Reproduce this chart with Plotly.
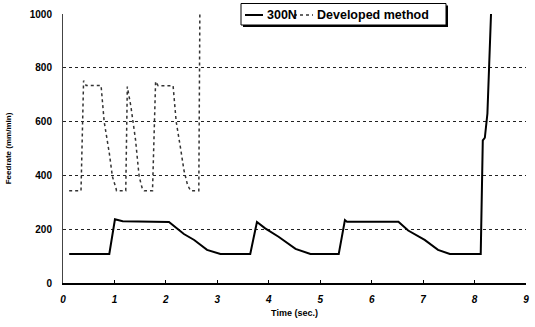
import plotly.graph_objects as go

# 300N (solid)
t_300n = [0.12, 0.90, 1.01, 1.16, 2.06, 2.35, 2.55, 2.80, 3.06, 3.64, 3.77, 3.93, 4.19, 4.52, 4.81,
          5.36, 5.48, 5.52, 6.52, 6.71, 7.03, 7.29, 7.52, 8.12, 8.16, 8.20, 8.25, 8.32]
f_300n = [108, 108, 237, 230, 227, 182, 160, 123, 108, 108, 227, 203, 172, 127, 108,
          108, 234, 228, 228, 195, 160, 123, 108, 108, 530, 540, 630, 1000]

# Developed method (dotted)
t_dev = [0.12, 0.35, 0.40, 0.45, 0.74, 0.80, 0.90, 0.96, 1.03, 1.04, 1.22, 1.25, 1.32, 1.41, 1.48,
         1.54, 1.58, 1.74, 1.80, 1.85, 2.14, 2.20, 2.29, 2.35, 2.42, 2.48, 2.64, 2.66]
f_dev = [343, 343, 752, 734, 734, 600, 483, 396, 352, 343, 343, 730, 656, 532, 396,
         352, 343, 343, 749, 733, 733, 600, 495, 420, 365, 343, 343, 1000]

series_names = ["300N", "Developed method"]
x_ticks = [0, 1, 2, 3, 4, 5, 6, 7, 8, 9]
y_ticks = [0, 200, 400, 600, 800, 1000]

W, H = 535, 327
L, R, T, B = 63, 9, 14, 44
pw, ph = W - L - R, H - T - B


def px(x):  # page pixel -> paper x
    return (x - L) / pw


def py(y):  # page pixel -> paper y
    return (H - B - y) / ph


fig = go.Figure()
fig.add_trace(go.Scatter(x=t_300n, y=f_300n, mode="lines", name=series_names[0],
                         line=dict(color="black", width=2), showlegend=False))
fig.add_trace(go.Scatter(x=t_dev, y=f_dev, mode="lines", name=series_names[1],
                         line=dict(color="#333333", width=1.5, dash="dot"), showlegend=False))

font = "Liberation Sans, Arial, sans-serif"

# manual legend (box with shadow, samples, labels)
shapes = [
    dict(type="rect", xref="paper", yref="paper", x0=px(243), x1=px(448), y0=py(27), y1=py(5.5),
         fillcolor="black", line=dict(width=0), layer="above"),
    dict(type="rect", xref="paper", yref="paper", x0=px(241), x1=px(446), y0=py(25), y1=py(3.5),
         fillcolor="white", line=dict(color="black", width=1), layer="above"),
    dict(type="line", xref="paper", yref="paper", x0=px(245), x1=px(263), y0=py(15), y1=py(15),
         line=dict(color="black", width=2), layer="above"),
    dict(type="line", xref="paper", yref="paper", x0=px(294), x1=px(313), y0=py(15), y1=py(15),
         line=dict(color="#333333", width=1.5, dash="dot"), layer="above"),
]
annotations = [
    dict(xref="paper", yref="paper", x=px(265), y=py(15), xanchor="left", yanchor="middle",
         text=f"<b>{series_names[0]}</b>", showarrow=False, font=dict(size=12.5, family=font)),
    dict(xref="paper", yref="paper", x=px(315), y=py(15), xanchor="left", yanchor="middle",
         text=f"<b>{series_names[1]}</b>", showarrow=False, font=dict(size=12.5, family=font)),
]

fig.update_layout(
    width=W, height=H,
    margin=dict(l=L, r=R, t=T, b=B, autoexpand=False),
    paper_bgcolor="white", plot_bgcolor="white",
    font=dict(family=font, color="black"),
    showlegend=False,
    shapes=shapes, annotations=annotations,
    xaxis=dict(range=[0, 9], tickvals=x_ticks, ticktext=[f"<b><i>{v}</i></b>" for v in x_ticks],
               showgrid=False, zeroline=False, showline=True, linecolor="black", linewidth=1.5,
               ticks="inside", ticklen=3, tickcolor="black", ticklabelstandoff=6,
               tickfont=dict(size=10),
               title=dict(text="<b>Time (sec.)</b>", font=dict(size=9), standoff=6)),
    yaxis=dict(range=[0, 1000], tickvals=y_ticks, ticktext=[f"<b>{v}</b>" for v in y_ticks],
               showgrid=True, gridcolor="#222222", griddash="dot", gridwidth=1,
               zeroline=False, showline=True, linecolor="#444444", linewidth=1,
               ticks="", tickfont=dict(size=10), ticklabelstandoff=8,
               title=dict(text="<b>Feedrate (mm/min)</b>", font=dict(size=8), standoff=16)),
)
fig.write_html("out.html", config={"displayModeBar": False},
               post_script="document.body.style.margin='0';document.body.style.overflow='hidden';")
